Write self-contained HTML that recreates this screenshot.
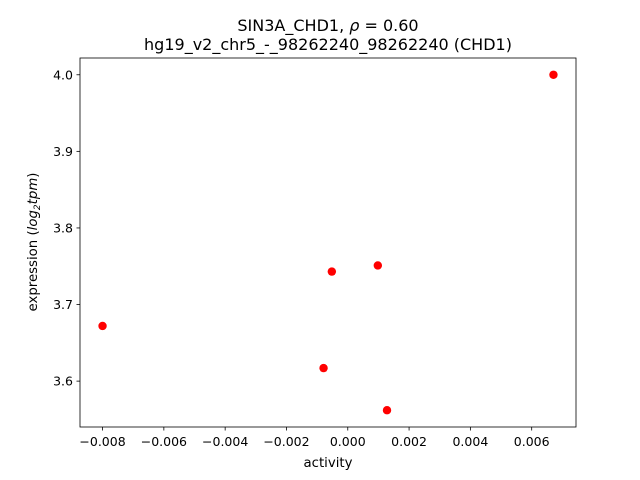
<!DOCTYPE html>
<html><head><meta charset="utf-8"><style>
html,body{margin:0;padding:0;background:#fff;}
svg{display:block;font-family:"DejaVu Sans","Liberation Sans",sans-serif;}
</style></head><body>
<svg id="chart" width="640" height="480">
<rect width="640" height="480" fill="#fff"/>
<text x="328" y="31" text-anchor="middle" font-size="16">SIN3A_CHD1, <tspan font-style="italic">ρ</tspan> = 0.60</text>
<text x="328" y="50" text-anchor="middle" font-size="16">hg19_v2_chr5_-_98262240_98262240 (CHD1)</text>
<g id="plot"></g>
<text x="328" y="467" text-anchor="middle" font-size="13.3">activity</text>
<text transform="translate(37,242) rotate(-90)" text-anchor="middle" font-size="13.3">expression (<tspan font-style="italic">log</tspan><tspan font-style="italic" font-size="9" dy="3">2</tspan><tspan font-style="italic" dy="-3">tpm</tspan>)</text>
</svg>
<script>
const xValues = [-0.008, 0.00671, -0.00052, 0.00098, -0.00079, 0.00128];
const yValues = [3.672, 4.0, 3.743, 3.751, 3.617, 3.562];
const xTicks = [-0.008, -0.006, -0.004, -0.002, 0.0, 0.002, 0.004, 0.006];
const xTickLabels = ["\u22120.008","\u22120.006","\u22120.004","\u22120.002","0.000","0.002","0.004","0.006"];
const yTicks = [3.6, 3.7, 3.8, 3.9, 4.0];
const yTickLabels = ["3.6","3.7","3.8","3.9","4.0"];

const L=80,R=576,T=58,B=427;
const xmin0=Math.min(...xValues), xmax0=Math.max(...xValues);
const ymin0=Math.min(...yValues), ymax0=Math.max(...yValues);
const xm=(xmax0-xmin0)*0.05, ym=(ymax0-ymin0)*0.05;
const xmin=xmin0-xm, xmax=xmax0+xm, ymin=ymin0-ym, ymax=ymax0+ym;
const sx=v=>L+(v-xmin)/(xmax-xmin)*(R-L);
const sy=v=>B-(v-ymin)/(ymax-ymin)*(B-T);
const NS="http://www.w3.org/2000/svg";
const g=document.getElementById('plot');
function mk(tag,attrs){const e=document.createElementNS(NS,tag);for(const k in attrs)e.setAttribute(k,attrs[k]);g.appendChild(e);return e;}

xTicks.forEach((t,i)=>{
  if(t<xmin||t>xmax)return;
  const x=sx(t);
  const l=mk('line',{x1:x,x2:x,y1:B,y2:B+3.5,stroke:'#000','stroke-width':0.8});
  
  
  const tx=mk('text',{x:x,y:B+19,'text-anchor':'middle','font-size':12.5});
  tx.textContent=xTickLabels[i];
  
  
});
yTicks.forEach((t,i)=>{
  if(t<ymin||t>ymax)return;
  const y=sy(t);
  const l=mk('line',{x1:L-3.5,x2:L,y1:y,y2:y,stroke:'#000','stroke-width':0.8});
  
  
  const tx=mk('text',{x:L-7,y:y+4.5,'text-anchor':'end','font-size':12.5});
  tx.textContent=yTickLabels[i];
  
  
});
xValues.forEach((v,i)=>{
  const c=mk('circle',{cx:sx(v),cy:sy(yValues[i]),r:4.2,fill:'#ff0000'});
  
  
});
const f=mk('rect',{x:L,y:T,width:R-L,height:B-T,fill:'none',stroke:'#000','stroke-width':0.8});


</script>
</body></html>
